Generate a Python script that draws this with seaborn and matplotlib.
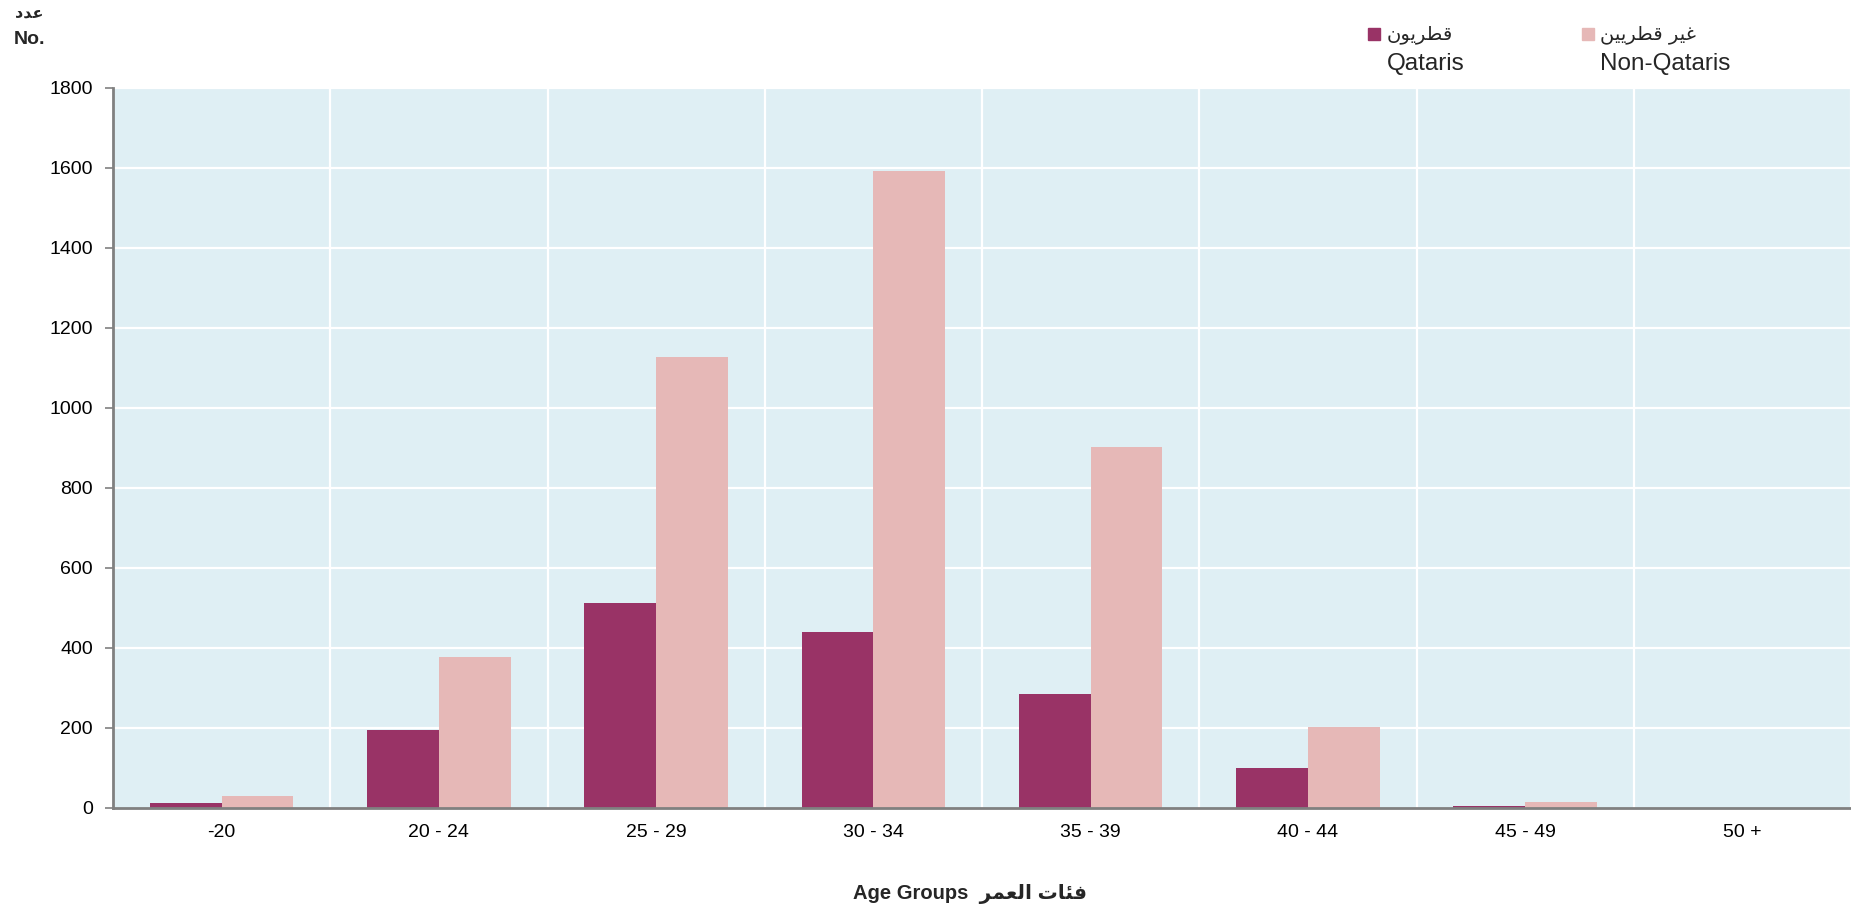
import matplotlib
matplotlib.use("Agg")
import matplotlib.pyplot as plt
from matplotlib.patches import Rectangle
import seaborn as sns
import pandas as pd
import numpy as np

# ---- data ----
age_groups = ["-20", "20 - 24", "25 - 29", "30 - 34", "35 - 39", "40 - 44", "45 - 49", "50 +"]
qataris = [12, 194, 513, 439, 286, 100, 5, 0]
non_qataris = [29, 377, 1128, 1592, 902, 203, 14, 0]
y_ticks = [0, 200, 400, 600, 800, 1000, 1200, 1400, 1600, 1800]

# Arabic labels (presentation forms, visual order for LTR rendering)
ar_qataris = "\uFEE5\uFEEE\uFEF3\uFEAE\uFEC4\uFED7"            # قطريون
ar_non_qataris = "\uFEE6\uFEF4\uFEF3\uFEAE\uFEC4\uFED7 \uFEAE\uFEF4\uFECF"  # غير قطريين
ar_number = "\uFEA9\uFEAA\uFECB"                                # عدد
ar_age = "\uFEAE\uFEE4\uFECC\uFEDF\uFE8D \uFE95\uFE8E\uFE8C\uFED3"  # فئات العمر
en_qataris = "Qataris"
en_non_qataris = "Non-Qataris"

series = ["Qataris", "Non-Qataris"]
colors = {"Qataris": "#993366", "Non-Qataris": "#E6B8B7"}

df = pd.DataFrame({
    "age": age_groups * 2,
    "value": qataris + non_qataris,
    "series": [series[0]] * len(age_groups) + [series[1]] * len(age_groups),
})

sns.set_theme(style="white")
FAM = ["Liberation Sans", "DejaVu Sans"]
plt.rcParams["font.family"] = FAM

W, H = 1851, 910
fig = plt.figure(figsize=(W / 100, H / 100), dpi=100)
ax = fig.add_axes([113 / W, 1 - 808 / H, 1 - 113 / W, (808 - 88) / H])
ax.set_facecolor("#DFEFF4")

sns.barplot(data=df, x="age", y="value", hue="series", order=age_groups,
            hue_order=series, palette=colors, width=0.66, gap=0,
            saturation=1, ax=ax, legend=False, linewidth=0,
            zorder=3)

ax.set_xlim(-0.5, len(age_groups) - 0.5)
ax.set_ylim(0, 1800)
ax.set_yticks(y_ticks)
ax.set_yticklabels([str(v) for v in y_ticks], fontsize=14, color="#000000")
ax.set_xticks(range(len(age_groups)))
ax.set_xticklabels(age_groups, fontsize=14, color="#000000")
ax.set_xticks(np.arange(-0.5, len(age_groups)), minor=True)
ax.tick_params(axis="x", which="major", length=0, pad=11.5)
ax.tick_params(axis="x", which="minor", length=6, width=1.2, color="#808080", direction="out")
ax.tick_params(axis="y", which="major", length=6, width=1.2, color="#808080", direction="out", pad=8.5, left=True)
ax.set_xlabel("")
ax.set_ylabel("")

# grid
ax.grid(False)
for yv in y_ticks[1:]:
    ax.axhline(yv, color="white", lw=1.6, zorder=1)
for xv in np.arange(0.5, len(age_groups)):
    ax.axvline(xv, color="white", lw=1.6, zorder=1)

for s in ["top", "right"]:
    ax.spines[s].set_visible(False)
for s in ["left", "bottom"]:
    ax.spines[s].set_visible(True)
    ax.spines[s].set_color("#808080")
    ax.spines[s].set_linewidth(2)
    ax.spines[s].set_zorder(5)

# y-axis title (top-left)
fig.text(29 / W, 1 - 13 / H, ar_number, family=["DejaVu Sans"], fontweight="bold",
         fontsize=11.5, ha="center", va="center")
fig.text(14 / W, 1 - 40 / H, "No.", family=FAM, fontweight="bold",
         fontsize=14, ha="left", va="center")

# x-axis title
fig.text(970 / W, 1 - 894 / H, "Age Groups  " + ar_age, family=FAM, fontweight="bold",
         fontsize=14.5, ha="center", va="center")

# legend (manual)
for sq_x, txt_x, ar, en, key in [(1368, 1387, ar_qataris, en_qataris, "Qataris"),
                                 (1582, 1600, ar_non_qataris, en_non_qataris, "Non-Qataris")]:
    fig.patches.append(Rectangle((sq_x / W, 1 - 40 / H), 12 / W, 12 / H,
                                 transform=fig.transFigure, color=colors[key]))
    fig.text(txt_x / W, 1 - 34 / H, ar, family=["DejaVu Sans"], fontsize=14,
             ha="left", va="center")
    fig.text(txt_x / W, 1 - 64 / H, en, family=FAM, fontsize=17.5,
             ha="left", va="center")

fig.savefig("out.png", dpi=100)
